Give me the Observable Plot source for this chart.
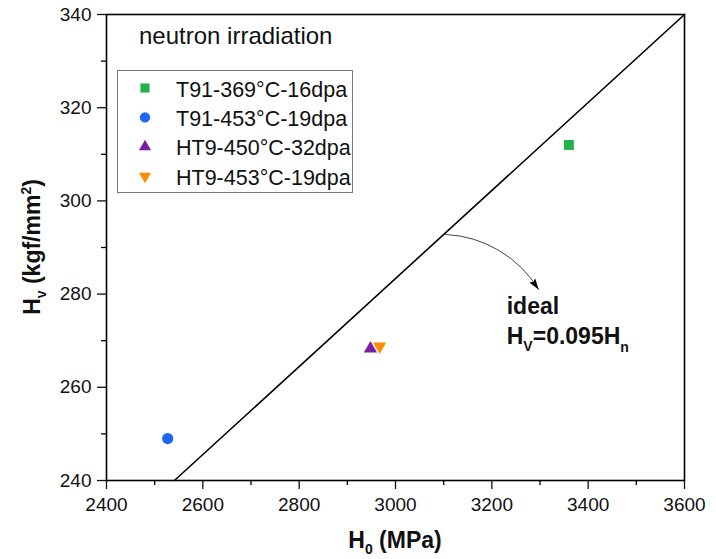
<!DOCTYPE html>
<html><head><meta charset="utf-8">
<script src="https://cdn.jsdelivr.net/npm/d3@7"></script>
<script src="https://cdn.jsdelivr.net/npm/@observablehq/plot@0.6"></script>
<style>body{margin:0;background:#fff} svg{display:block;font-family:"Liberation Sans",Arial,sans-serif}</style>
</head><body><div id="chart"></div>
<script>
// ---- data ----
const seriesNames = ["T91-369°C-16dpa", "T91-453°C-19dpa", "HT9-450°C-32dpa", "HT9-453°C-19dpa"];
const h0Values = [3360, 2527, 2948, 2967];
const hvValues = [312, 249, 268.3, 268.8];
const seriesColors = ["#22b14c", "#1e66f5", "#7b1fa2", "#ff8c00"];
const idealX = [2541, 3600];
const idealY = [240, 340];
const xTicks = [2400, 2600, 2800, 3000, 3200, 3400, 3600];
const xMinorTicks = [2500, 2700, 2900, 3100, 3300, 3500];
const yTicks = [240, 260, 280, 300, 320, 340];
const yMinorTicks = [250, 270, 290, 310, 330];
const arrowStart = [3104, 292.8];
const arrowEnd = [3297, 281.0];
const annotationPos = [3232, 275.6];

const triDown = {
  draw(ctx, size) {
    const s3 = Math.sqrt(3);
    const y = -Math.sqrt(size / (s3 * 3));
    ctx.moveTo(0, -y * 2);
    ctx.lineTo(-s3 * y, y);
    ctx.lineTo(s3 * y, y);
    ctx.closePath();
  }
};
const triUp = {
  draw(ctx, size) {
    const s3 = Math.sqrt(3);
    const y = -Math.sqrt(size / (s3 * 3));
    ctx.moveTo(0, y * 2);
    ctx.lineTo(-s3 * y, -y);
    ctx.lineTo(s3 * y, -y);
    ctx.closePath();
  }
};
// arrow head with its tip at the origin, pointing up
const arrowHead = {
  draw(ctx) {
    ctx.moveTo(0, 0);
    ctx.lineTo(-3.6, 11);
    ctx.lineTo(0, 9);
    ctx.lineTo(3.6, 11);
    ctx.closePath();
  }
};
const symbols = ["square", "circle", triUp, triDown];
const radii = [5.6, 5.6, 4.9, 4.9];

const points = seriesNames.map((name, i) => ({name, x: h0Values[i], y: hvValues[i], i}));
const ideal = idealX.map((x, i) => ({x, y: idealY[i]}));
const fmt = d => String(d);

const plot = Plot.plot({
  width: 716,
  height: 559,
  marginLeft: 106,
  marginRight: 32,
  marginTop: 14,
  marginBottom: 79,
  style: {fontFamily: '"Liberation Sans", Arial, sans-serif', background: "#fff"},
  x: {domain: [2400, 3600]},
  y: {domain: [240, 340]},
  marks: [
    Plot.axisX({ticks: xTicks, tickSize: 9, tickPadding: 8, fontSize: 19, tickFormat: fmt, label: null, strokeWidth: 1.3, color: "#111"}),
    Plot.axisX({ticks: xMinorTicks, tickSize: 5, tickFormat: () => "", label: null, strokeWidth: 1.3}),
    Plot.axisY({ticks: yTicks, tickSize: 9, tickPadding: 6, fontSize: 19, tickFormat: fmt, label: null, strokeWidth: 1.3, color: "#111"}),
    Plot.axisY({ticks: yMinorTicks, tickSize: 5, tickFormat: () => "", label: null, strokeWidth: 1.3}),
    Plot.line(ideal, {x: "x", y: "y", stroke: "#000", strokeWidth: 1.6}),
    Plot.arrow([{x1: arrowStart[0], y1: arrowStart[1], x2: arrowEnd[0], y2: arrowEnd[1]}],
      {x1: "x1", y1: "y1", x2: "x2", y2: "y2", bend: 28, stroke: "#444", strokeWidth: 1, headLength: 0}),
    Plot.dot([{x: arrowEnd[0], y: arrowEnd[1]}], {x: "x", y: "y", symbol: arrowHead, rotate: 145, fill: "#000", stroke: "none"}),
    ...points.map(p => Plot.dot([p], {x: "x", y: "y", symbol: symbols[p.i], r: radii[p.i], fill: seriesColors[p.i], stroke: "none"})),
    Plot.frame({stroke: "#000", strokeWidth: 1.6})
  ]
});

const svg = d3.select(plot);
const xs = plot.scale("x"), ys = plot.scale("y");
const font = '"Liberation Sans", Arial, sans-serif';

// x title
const xt = svg.append("text").attr("x", 395).attr("y", 548).attr("text-anchor", "middle")
  .attr("font-family", font).attr("font-weight", "bold").attr("font-size", 23).attr("fill", "#111");
xt.append("tspan").text("H");
xt.append("tspan").attr("font-size", 14).attr("dy", 6).text("0");
xt.append("tspan").attr("dy", -6).text(" (MPa)");

// y title
const yt = svg.append("text").attr("transform", "translate(40,247) rotate(-90)").attr("text-anchor", "middle")
  .attr("font-family", font).attr("font-weight", "bold").attr("font-size", 23).attr("fill", "#111");
yt.append("tspan").text("H");
yt.append("tspan").attr("font-size", 14).attr("dy", 6).text("v");
yt.append("tspan").attr("dy", -6).text(" (kgf/mm");
yt.append("tspan").attr("font-size", 14).attr("dy", -9).text("2");
yt.append("tspan").attr("dy", 9).text(")");

// neutron irradiation label
svg.append("text").attr("x", 139).attr("y", 44).attr("text-anchor", "start").attr("font-family", font)
  .attr("font-size", 24).attr("fill", "#111").text("neutron irradiation");

// legend
const lg = svg.append("g");
lg.append("rect").attr("x", 117.5).attr("y", 70.5).attr("width", 235).attr("height", 122)
  .attr("fill", "#fff").attr("stroke", "#777").attr("stroke-width", 1);
const symTypes = [d3.symbolSquare, d3.symbolCircle, triUp, triDown];
seriesNames.forEach((name, i) => {
  const cy = 88 + i * 29.4;
  lg.append("path").attr("transform", `translate(145,${cy})`)
    .attr("d", d3.symbol(symTypes[i], radii[i] * radii[i] * Math.PI * 0.85)()).attr("fill", seriesColors[i]);
  lg.append("text").attr("x", 176).attr("y", cy + 8.5).attr("text-anchor", "start").attr("font-family", font)
    .attr("font-size", 21.5).attr("fill", "#111").text(name);
});

// annotation
const ax = xs.apply(annotationPos[0]), ay = ys.apply(annotationPos[1]);
svg.append("text").attr("x", ax).attr("y", ay).attr("text-anchor", "start").attr("font-family", font).attr("font-weight", "bold")
  .attr("font-size", 23).attr("fill", "#111").text("ideal");
const an = svg.append("text").attr("x", ax).attr("y", ay + 30).attr("text-anchor", "start").attr("font-family", font).attr("font-weight", "bold")
  .attr("font-size", 23).attr("fill", "#111");
an.append("tspan").text("H");
an.append("tspan").attr("font-size", 14).attr("dy", 7).text("V");
an.append("tspan").attr("dy", -7).text("=0.095H");
an.append("tspan").attr("font-size", 14).attr("dy", 8).text("n");

document.getElementById("chart").appendChild(plot);
</script>
</body></html>
